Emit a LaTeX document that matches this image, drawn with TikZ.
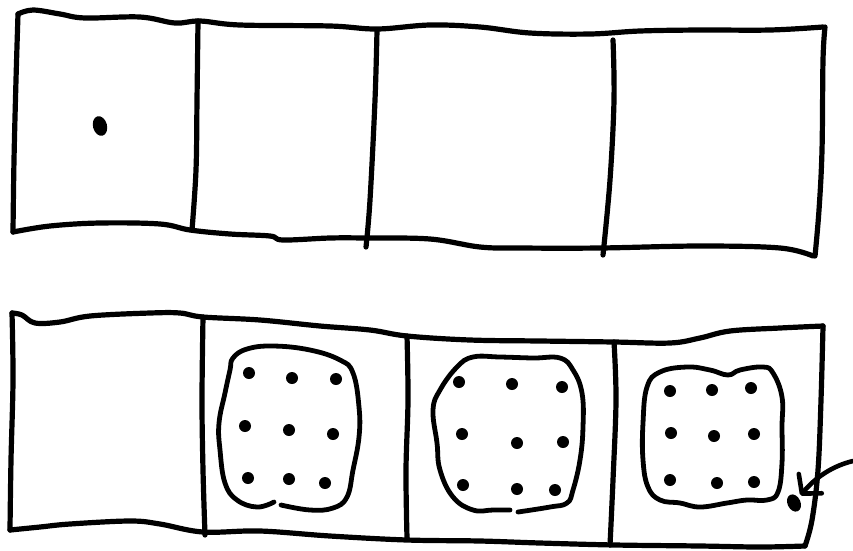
\documentclass[tikz,border=0pt]{standalone}
\usetikzlibrary{arrows.meta,shapes.geometric}
\begin{document}
\begin{tikzpicture}[x=1pt,y=-1pt,line cap=round,line join=round,
  pen/.style={line width=5.2pt},
  blob/.style={line width=4.8pt},
  spot/.style={fill=black},
  bigspot/.style={ellipse,fill=black,inner sep=0pt,minimum width=13pt,minimum height=18pt,rotate=25}]
  \useasboundingbox (0,0) rectangle (853,550);
  % upper strip
  \draw[pen] plot[smooth,tension=.6] coordinates {(18,14) (33,10) (60,14) (85,18) (140,17) (175,23) (200,21) (240,25) (330,26) (377,29) (430,25) (480,27) (530,33) (590,34) (640,31) (700,30) (770,30) (823,27)};
  \draw[pen] plot[smooth,tension=.6] coordinates {(18,14) (16,80) (14,160) (13,232)};
  \draw[pen] plot[smooth,tension=.6] coordinates {(13,232) (50,226) (100,223) (160,224) (190,230) (230,234) (270,236) (283,240) (330,238) (366,238) (430,239) (480,247) (520,248) (600,248) (700,246) (780,248) (813,256)};
  \draw[pen] plot[smooth,tension=.6] coordinates {(825,27) (823,60) (822,150) (819,210) (815,256)};
  \draw[pen] plot[smooth,tension=.6] coordinates {(198,21) (197,100) (196,170) (192,230)};
  \draw[pen] plot[smooth,tension=.6] coordinates {(377,30) (375,100) (370,200) (366,247)};
  \draw[pen] plot[smooth,tension=.6] coordinates {(613,40) (614,100) (610,180) (603,255)};
  \fill[spot,rotate around={15:(100,126)}] (100,126) ellipse (7 and 10);
  % lower strip
  \draw[pen] plot[smooth,tension=.6] coordinates {(12,313) (22,315) (35,323) (60,322) (90,316) (150,313) (180,313) (203,317) (260,320) (320,326) (370,330) (407,336) (470,340) (540,341) (614,342) (670,343) (700,338) (730,331) (780,328) (823,326)};
  \draw[pen] plot[smooth,tension=.6] coordinates {(12,313) (13,380) (11,460) (10,530)};
  \draw[pen] plot[smooth,tension=.6] coordinates {(10,530) (40,527) (70,524) (130,521) (160,524) (203,532) (260,531) (330,536) (407,540) (480,541) (540,543) (615,545) (700,546) (760,547) (805,546)};
  \draw[pen] plot[smooth,tension=.6] coordinates {(823,326) (821,400) (818,470) (812,520) (805,546)};
  \draw[pen] plot[smooth,tension=.6] coordinates {(203,317) (202,400) (203,470) (205,535)};
  \draw[pen] plot[smooth,tension=.6] coordinates {(407,336) (408,400) (406,470) (407,538)};
  \draw[pen] plot[smooth,tension=.6] coordinates {(614,342) (616,400) (613,480) (610,545)};
  % blobs
  \draw[blob] plot[smooth,tension=.7] coordinates {(281,505) (310,510) (333,508) (347,497) (353,470) (359,437) (359,407) (353,373) (340,360) (310,350) (273,346) (247,349) (233,358) (230,370) (225,393) (219,423) (220,450) (225,483) (237,500) (257,507) (274,502)};
  \draw[blob] plot[smooth,tension=.7] coordinates {(518,512) (550,507) (567,503) (573,490) (580,460) (583,427) (582,393) (573,370) (560,358) (533,358) (500,357) (473,357) (457,367) (440,390) (433,410) (437,443) (440,470) (453,497) (473,510) (493,510) (510,510)};
  \draw[blob] plot[smooth cycle,tension=.7] coordinates {(647,387) (660,372) (687,367) (710,370) (728,375) (740,370) (763,367) (773,373) (782,397) (782,427) (782,463) (778,492) (767,500) (747,500) (727,503) (700,507) (680,503) (660,500) (648,487) (643,460) (643,423)};
  \foreach \p in {(249,373),(292,378),(336,379),(245,426),(289,430),(333,434),(248,478),(289,479),(325,483),
                  (459,382),(512,384),(562,387),(462,434),(517,443),(563,442),(463,485),(517,489),(555,490),
                  (670,391),(712,390),(751,388),(671,433),(714,436),(754,434),(670,480),(717,483),(754,482)}
    \fill[spot] \p ellipse (6 and 6);
  % marked dot
  \node[bigspot] (mark) at (794,503) {};
  \coordinate (tail) at (853,461);
  \draw[pen,line width=4.6pt,shorten >=3pt,-{Straight Barb[length=13pt,width=30pt,round]}] (tail) .. controls (832,466) and (815,478) .. (mark);
\end{tikzpicture}
\end{document}
